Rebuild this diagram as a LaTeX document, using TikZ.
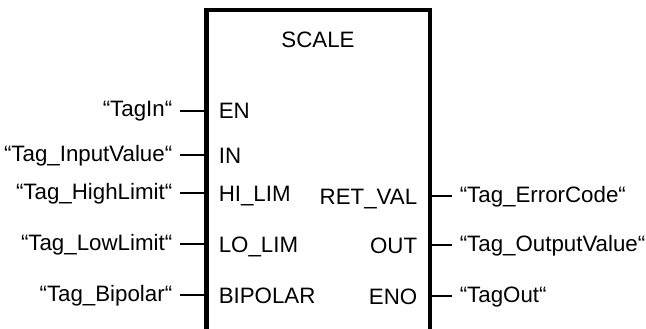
\documentclass[tikz,border=0pt]{standalone}
\usepackage{fontspec}
\setmainfont{Liberation Sans}
\begin{document}
\begin{tikzpicture}[x=1pt,y=-1pt,line width=1.6pt,
  pin/.style={inner sep=0,text height=16pt,text depth=0pt,font=\fontsize{22.3}{26}\selectfont},
  tag/.style={inner ysep=0,inner xsep=7pt,text height=16pt,text depth=4pt,font=\fontsize{22.3}{26}\selectfont}]
\useasboundingbox(0,0)rectangle(646,329);
\clip(0,0)rectangle(646,329);
\draw[line width=4.2pt](206.5,340)--(206.5,10)--(430,10)--(430,340);
\node[pin](title)at(318,40){SCALE};
% inputs
\foreach \n/\p/\t/\y in {EN/EN/TagIn/111,IN/IN/Tag\_InputValue/155,HI/HI\_LIM/Tag\_HighLimit/193,LO/LO\_LIM/Tag\_LowLimit/244,BI/BIPOLAR/Tag\_Bipolar/295}{
  \coordinate(p\n)at(206.5,\y);
  \node[pin,anchor=west](\n)at(218,\y){\p};
  \node[tag,anchor=east](t\n)at(180,\y){“\t“};
  \draw(t\n)--(p\n);}
% outputs
\foreach \n/\p/\t/\y in {RV/RET\_VAL/Tag\_ErrorCode/196,OU/OUT/Tag\_OutputValue/245,EO/ENO/TagOut/296}{
  \coordinate(p\n)at(430,\y);
  \node[pin,anchor=east](\n)at(418,\y){\p};
  \node[tag,anchor=west](t\n)at(452,\y){“\t“};
  \draw(p\n)--(t\n);}
\end{tikzpicture}
\end{document}
